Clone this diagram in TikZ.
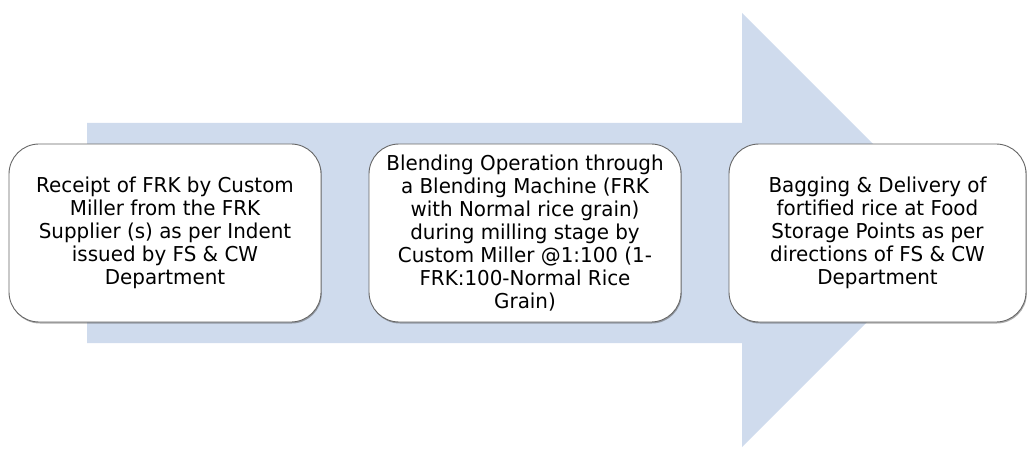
\documentclass[tikz,border=0pt]{standalone}
\usepackage{fontspec}
\setmainfont{DejaVu Sans}[FakeStretch=0.97]
\usetikzlibrary{shadows}
\definecolor{arrowblue}{RGB}{207,219,237}
\tikzset{
  stage/.style={draw=black!60, line width=0.9pt, fill=white, rounded corners=30pt,
    minimum height=178pt, align=center, inner sep=0pt,
    font=\fontsize{20.5}{23}\selectfont,
    drop shadow={shadow xshift=0.8pt, shadow yshift=-1.5pt, opacity=0.45, fill=black!70}},
  bigarrow/.style={fill=arrowblue, draw=none}
}
\begin{document}
\begin{tikzpicture}[x=1pt,y=-1pt]
\useasboundingbox (0,0) rectangle (1028,449);
\fill[bigarrow] (87,123) -- (742,123) -- (742,13) -- (959,230) -- (742,447) -- (742,343) -- (87,343) -- cycle;
\node[stage, minimum width=312pt] (s1) at (165,233)
  {Receipt of FRK by Custom\\Miller from the FRK\\Supplier (s) as per Indent\\issued by FS \& CW\\Department};
\node[stage, minimum width=312pt] (s2) at (525,233)
  {Blending Operation through\\a Blending Machine (FRK\\with Normal rice grain)\\during milling stage by\\Custom Miller @1:100 (1-\\FRK:100-Normal Rice\\Grain)};
\node[stage, minimum width=297pt] (s3) at (877.5,233)
  {Bagging \& Delivery of\\fortified rice at Food\\Storage Points as per\\directions of FS \& CW\\Department};
\end{tikzpicture}
\end{document}
